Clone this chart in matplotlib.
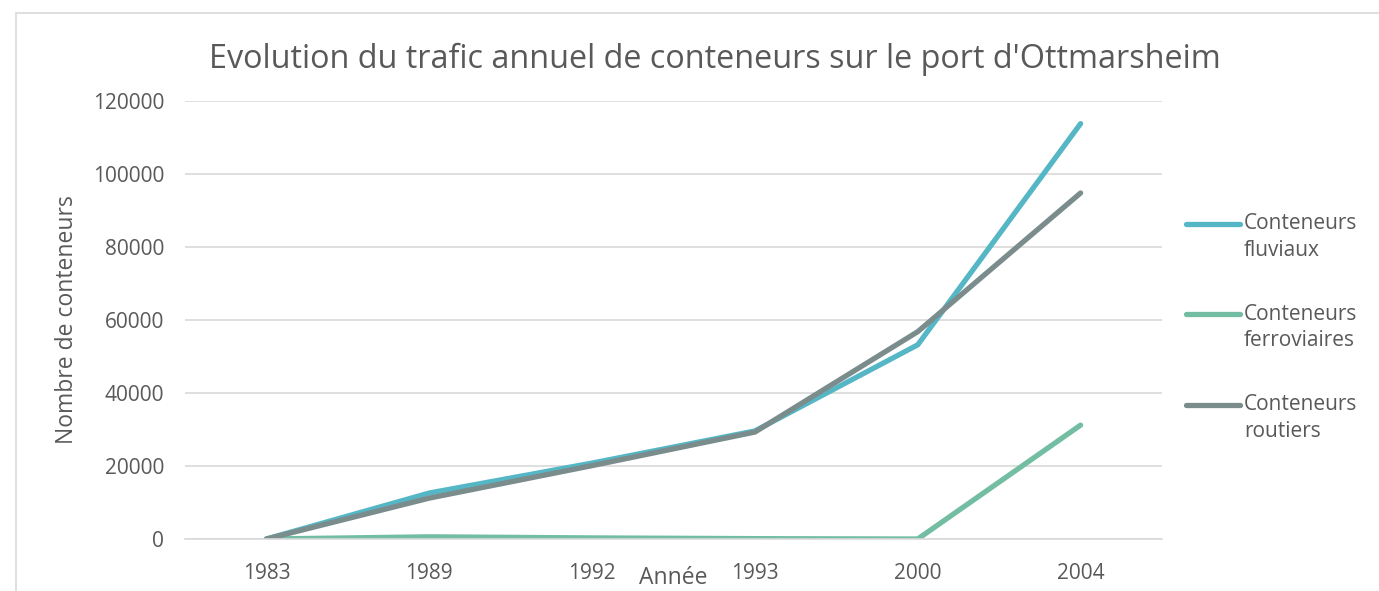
import matplotlib.pyplot as plt
from matplotlib.patches import Rectangle
from matplotlib.legend_handler import HandlerLine2D

plt.rcParams['font.family'] = ['Open Sans', 'DejaVu Sans']

annees = ['1983', '1989', '1992', '1993', '2000', '2004']
fluviaux = [0, 12600, 20800, 29600, 53200, 113800]
ferroviaires = [0, 600, 300, 100, 0, 31200]
routiers = [0, 11200, 20100, 29300, 56800, 94800]

series = [
    ('Conteneurs\nfluviaux', fluviaux, '#55b7c5'),
    ('Conteneurs\nferroviaires', ferroviaires, '#73bea3'),
    ('Conteneurs\nroutiers', routiers, '#7b8c8d'),
]


class HandlerTop(HandlerLine2D):
    # trait de légende au niveau de la première ligne du libellé
    def create_artists(self, legend, orig_handle, xdescent, ydescent, width, height, fontsize, trans):
        artists = super().create_artists(legend, orig_handle, xdescent, ydescent, width, height, fontsize, trans)
        for a in artists:
            a.set_ydata([y + 10 for y in a.get_ydata()])
        return artists


fig = plt.figure(figsize=(13.79, 5.91), dpi=100)
ax = fig.add_axes([185 / 1379, 1 - 539 / 591, (1162 - 185) / 1379, (539 - 101) / 591])

# cadre du graphique
fig.patches.append(Rectangle((16 / 1379, -0.1), 1.2, 1 - 13 / 591 + 0.1, transform=fig.transFigure,
                             fill=False, edgecolor='#d9d9d9', linewidth=1.2))

x = range(len(annees))
lines = []
for label, vals, col in series:
    ln, = ax.plot(x, vals, color=col, linewidth=3.8, solid_capstyle='round', solid_joinstyle='miter', label=label)
    lines.append(ln)

ax.set_xlim(-0.5, len(annees) - 0.5)
ax.set_ylim(0, 120000)
ax.set_yticks(range(0, 120001, 20000))
ax.set_xticks(list(x))
ax.set_xticklabels(annees)
ax.grid(axis='y', color='#d9d9d9', linewidth=1.2)
ax.set_axisbelow(True)
for s in ['top', 'right', 'left']:
    ax.spines[s].set_visible(False)
ax.spines['bottom'].set_color('#d9d9d9')
ax.spines['bottom'].set_linewidth(1.2)
ax.tick_params(length=0, labelsize=15, colors='#595959')
ax.tick_params(axis='y', pad=15)
ax.tick_params(axis='x', pad=17)

ax.set_title("Evolution du trafic annuel de conteneurs sur le port d'Ottmarsheim",
             fontsize=23.3, color='#595959', pad=24, x=(715 - 185) / (1162 - 185))
ax.set_ylabel('Nombre de conteneurs', fontsize=16.5, color='#595959', labelpad=10)
fig.text(673 / 1379, 1 - 578 / 591, 'Année', fontsize=16.5, color='#595959', ha='center', va='center')

leg = ax.legend(loc='upper left', bbox_to_anchor=(1.005, 0.786), frameon=False, fontsize=15,
                labelcolor='#595959', handlelength=2.6, handletextpad=0.2, labelspacing=2.05,
                handler_map={ln: HandlerTop() for ln in lines})
for t in leg.get_texts():
    t.set_linespacing(1.35)

fig.savefig('out.png', dpi=100)
